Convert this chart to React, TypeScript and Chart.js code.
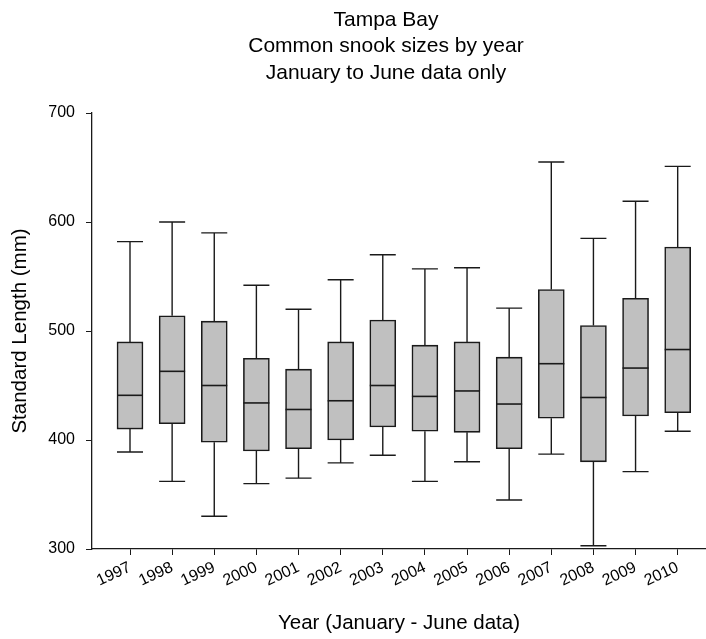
import React, { useEffect, useRef } from "react";
import { Chart, registerables } from "chart.js";

Chart.register(...registerables);

const TITLE_LINES = ["Tampa Bay", "Common snook sizes by year", "January to June data only"];
const X_TITLE = "Year (January - June data)";
const Y_TITLE = "Standard Length (mm)";

const YEARS = [1997, 1998, 1999, 2000, 2001, 2002, 2003, 2004, 2005, 2006, 2007, 2008, 2009, 2010];
const WHISKER_LOW = [389, 362, 330, 360, 365, 379, 386, 362, 380, 345, 387, 303, 371, 408];
const Q1 = [410, 415, 398, 390, 392, 400, 412, 408, 407, 392, 420, 380, 422, 425];
const MEDIAN = [441, 463, 450, 434, 428, 436, 450, 440, 445, 433, 470, 439, 466, 483];
const Q3 = [490, 514, 509, 475, 465, 490, 510, 487, 490, 476, 538, 505, 530, 577];
const WHISKER_HIGH = [582, 600, 590, 542, 520, 547, 570, 557, 558, 521, 655, 585, 619, 651];
const Y_TICKS = [300, 400, 500, 600, 700];

const FONT = "'Liberation Sans', Arial, Helvetica, sans-serif";
const INK = "#1a1a1a";

const boxExtrasPlugin = {
  id: "boxExtras",
  afterDatasetsDraw(chart: any) {
    const { ctx, scales } = chart;
    const meta = chart.getDatasetMeta(0);
    const y = scales.y;
    ctx.save();
    ctx.strokeStyle = INK;
    meta.data.forEach((bar: any, i: number) => {
      const x = bar.x;
      const half = bar.width / 2;
      const yLow = y.getPixelForValue(WHISKER_LOW[i]);
      const yHigh = y.getPixelForValue(WHISKER_HIGH[i]);
      const yQ1 = y.getPixelForValue(Q1[i]);
      const yQ3 = y.getPixelForValue(Q3[i]);
      const yMed = y.getPixelForValue(MEDIAN[i]);
      ctx.lineWidth = 1.4;
      ctx.beginPath();
      ctx.moveTo(x, yQ3);
      ctx.lineTo(x, yHigh);
      ctx.moveTo(x, yQ1);
      ctx.lineTo(x, yLow);
      ctx.moveTo(x - half, yHigh);
      ctx.lineTo(x + half, yHigh);
      ctx.moveTo(x - half, yLow);
      ctx.lineTo(x + half, yLow);
      ctx.stroke();
      ctx.lineWidth = 1.6;
      ctx.beginPath();
      ctx.moveTo(x - half, yMed);
      ctx.lineTo(x + half, yMed);
      ctx.stroke();
    });
    ctx.restore();
  },
};

const titlePlugin = {
  id: "multiTitle",
  afterDraw(chart: any) {
    const { ctx } = chart;
    ctx.save();
    ctx.fillStyle = "#000";
    ctx.font = `21px ${FONT}`;
    ctx.textAlign = "center";
    ctx.textBaseline = "alphabetic";
    TITLE_LINES.forEach((line, i) => {
      ctx.fillText(line, 386, 26 + i * 26.3);
    });
    ctx.restore();
  },
};

export default function App() {
  const ref = useRef<HTMLCanvasElement | null>(null);

  useEffect(() => {
    if (!ref.current) return;
    const chart = new Chart(ref.current, {
      type: "bar",
      data: {
        datasets: [
          {
            data: YEARS.map((yr, i) => ({ x: yr, y: [Q1[i], Q3[i]] })) as any,
            backgroundColor: "#c0c0c0",
            borderColor: INK,
            borderWidth: 1.6,
            borderSkipped: false,
            barThickness: 26,
          },
        ],
      },
      options: {
        animation: false,
        responsive: false,
        layout: { padding: { top: 113, left: 0, right: 0, bottom: 0 } },
        plugins: {
          legend: { display: false },
          tooltip: { enabled: false },
          title: { display: false },
        },
        scales: {
          x: {
            type: "linear",
            offset: false,
            min: 1996.098,
            max: 2010.672,
            afterBuildTicks: (axis: any) => {
              axis.ticks = YEARS.map((v) => ({ value: v }));
            },
            afterFit: (scale: any) => {
              scale.height = 90;
            },
            grid: {
              display: true,
              drawOnChartArea: false,
              drawTicks: true,
              tickLength: 6,
              color: INK,
              offset: false,
            },
            border: { display: true, color: INK, width: 1.3 },
            ticks: {
              autoSkip: false,
              minRotation: 25,
              maxRotation: 25,
              padding: 3,
              color: "#000",
              font: { family: FONT, size: 16 },
              callback: (v: any) => String(v),
            },
            title: {
              display: true,
              text: X_TITLE,
              color: "#000",
              font: { family: FONT, size: 20.5 },
              padding: { top: 0, bottom: 3 },
            },
          },
          y: {
            type: "linear",
            min: 300,
            max: 700,
            afterBuildTicks: (axis: any) => {
              axis.ticks = Y_TICKS.map((v) => ({ value: v }));
            },
            afterFit: (scale: any) => {
              scale.width = 92;
            },
            grid: {
              display: true,
              drawOnChartArea: false,
              drawTicks: true,
              tickLength: 6,
              color: INK,
            },
            border: { display: true, color: INK, width: 1.3 },
            ticks: {
              padding: 11,
              color: "#000",
              font: { family: FONT, size: 16 },
              callback: (v: any) => String(v),
            },
            title: {
              display: true,
              text: Y_TITLE,
              color: "#000",
              font: { family: FONT, size: 20.5 },
              padding: { top: 8, bottom: 0 },
            },
          },
        },
      },
      plugins: [boxExtrasPlugin, titlePlugin],
    });
    return () => chart.destroy();
  }, []);

  return (
    <div style={{ position: "absolute", left: 0, top: 0, width: 706, height: 639, background: "#fff" }}>
      <canvas ref={ref} width={706} height={639} style={{ display: "block" }} />
    </div>
  );
}
